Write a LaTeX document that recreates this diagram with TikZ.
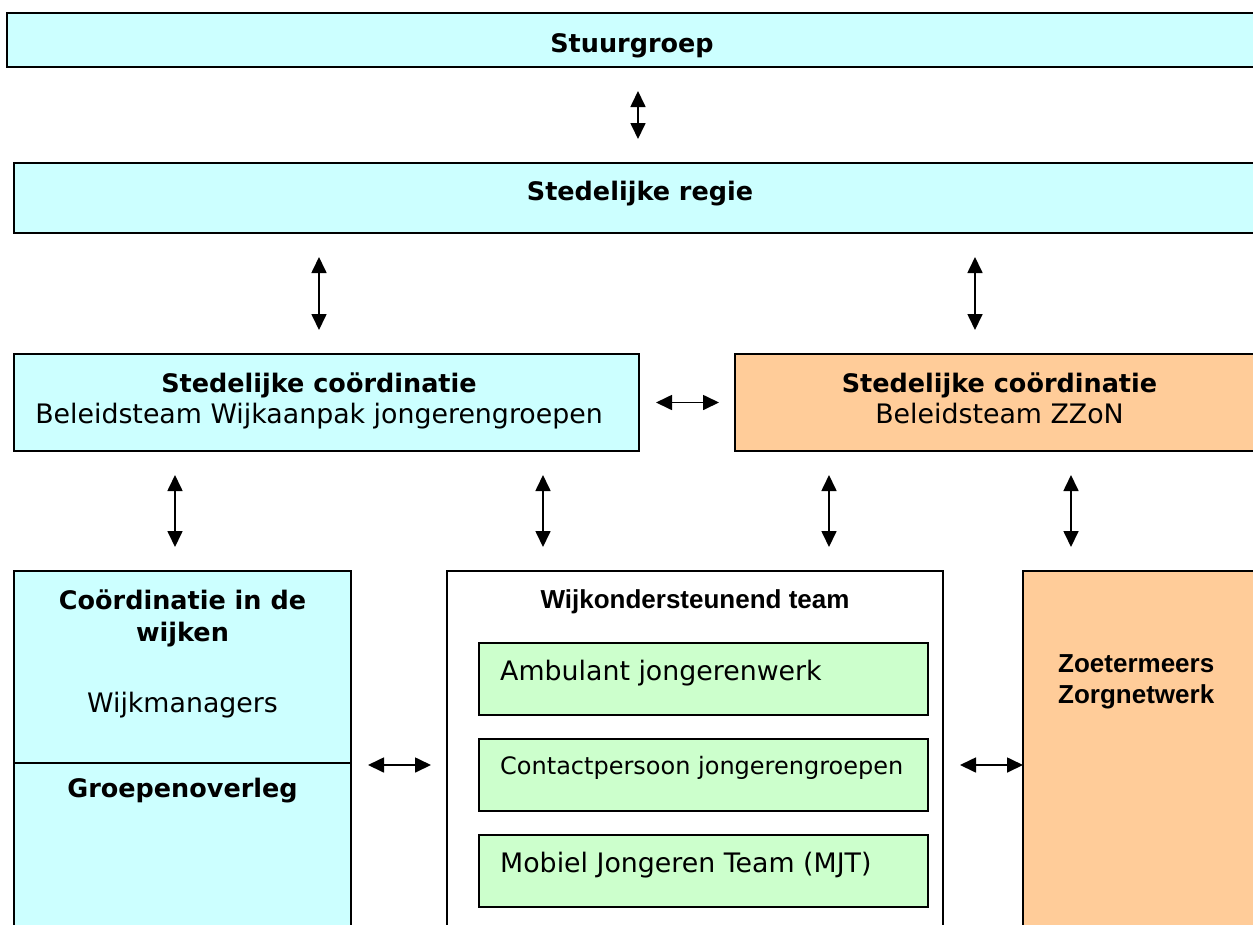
\documentclass[tikz,border=0pt]{standalone}
\usepackage{fontspec}
\setmainfont{DejaVu Sans}
\newfontfamily\arialfont{Liberation Sans}
\usepackage{xcolor}
\usepackage{tikz}
\usetikzlibrary{positioning,arrows.meta}
\definecolor{lichtblauw}{HTML}{CCFFFF}
\definecolor{oranje}{HTML}{FFCC99}
\definecolor{lichtgroen}{HTML}{CCFFCC}
\tikzset{blauw box/.style={rectangle,fill=lichtblauw,draw,line width=1.9pt,inner sep=0pt,outer sep=0pt,anchor=north west},}
\tikzset{oranje box/.style={rectangle,fill=oranje,draw,line width=1.9pt,inner sep=0pt,outer sep=0pt,anchor=north west},}
\tikzset{wit box/.style={rectangle,fill=white,draw,line width=1.5pt,inner sep=0pt,outer sep=0pt,anchor=north west},}
\tikzset{groen box/.style={rectangle,fill=lichtgroen,draw,line width=1.6pt,inner sep=0pt,outer sep=0pt,minimum width=449pt,minimum height=72pt},}
\tikzset{kop/.style={font=\bfseries\fontsize{25.5}{31}\selectfont,inner sep=0pt,anchor=base},}
\tikzset{tekst/.style={font=\fontsize{26.8}{31}\selectfont,inner sep=0pt,anchor=base},}
\tikzset{arial kop/.style={font=\arialfont\bfseries\fontsize{26}{31}\selectfont,inner sep=0pt,anchor=base},}
\tikzset{pijl/.style={{Triangle[length=16pt,width=15pt]}-{Triangle[length=16pt,width=15pt]},line width=1.7pt,shorten <=24pt,shorten >=24pt},}

\begin{document}
\begin{tikzpicture}[x=1pt,y=-1pt]
       \useasboundingbox (0,0) rectangle (1253,924);
       \clip (0,0) rectangle (1253,924);

       \node[blauw box, minimum width=1250pt, minimum height=54pt] (stuur) at (7,13) {};
       \node[blauw box, minimum width=1256pt, minimum height=70pt] (regie) at (14,163) {};

       \node[blauw box, minimum width=625pt, minimum height=97pt] (coordL) at (14,354) {};
       \node[oranje box, minimum width=535pt, minimum height=97pt] (coordR) [right = 96pt of coordL] {};

       \node[blauw box, minimum width=337pt, minimum height=388pt] (wijken) at (14,571) {};
       \node[wit box, minimum width=496pt, minimum height=388pt] (wijkteam) [right = 96pt of wijken] {};
       \node[oranje box, minimum width=250pt, minimum height=388pt] (zzn) [right = 80pt of wijkteam] {};

       \node[groen box, anchor=north west] (groen1) at (479,643) {};
       \node[groen box] (groen2) [below = 24pt of groen1] {};
       \node[groen box] (groen3) [below = 24pt of groen2] {};

       \draw[line width=1.9pt] ([yshift=-192pt]wijken.north west) -- ([yshift=-192pt]wijken.north east);

       % teksten
       \node[kop] (stuurT) at ([yshift=-39pt]stuur.north) {Stuurgroep};
       \node[kop] (regieT) at ([xshift=-2pt,yshift=-37.5pt]regie.north) {Stedelijke regie};
       \node[kop] (coordLT) at ([xshift=-7.5pt,yshift=-38pt]coordL.north) {Stedelijke coördinatie};
       \node[tekst] (coordLS) at ([yshift=-31pt]coordLT.base) {Beleidsteam Wijkaanpak jongerengroepen};
       \node[kop] (coordRT) at ([xshift=-3pt,yshift=-38pt]coordR.north) {Stedelijke coördinatie};
       \node[tekst] (coordRS) at ([yshift=-31pt]coordRT.base) {Beleidsteam ZZoN};
       \node[kop] (wijkenT) at ([yshift=-38pt]wijken.north) {Coördinatie in de};
       \node[kop] (wijkenT2) at ([yshift=-32pt]wijkenT.base) {wijken};
       \node[tekst] (wijkenS) at ([yshift=-103pt]wijkenT.base) {Wijkmanagers};
       \node[kop] (groepT) at ([yshift=-226pt]wijken.north) {Groepenoverleg};
       \node[arial kop] (wijkteamT) at ([xshift=0pt,yshift=-37pt]wijkteam.north) {Wijkondersteunend team};
       \node[tekst, anchor=base west] (groen1T) at ([xshift=21pt,yshift=-37pt]groen1.north west) {Ambulant jongerenwerk};
       \node[tekst, anchor=base west, font=\fontsize{24}{28}\selectfont] (groen2T) at ([xshift=21pt,yshift=-35pt]groen2.north west) {Contactpersoon jongerengroepen};
       \node[tekst, anchor=base west] (groen3T) at ([xshift=21pt,yshift=-37pt]groen3.north west) {Mobiel Jongeren Team (MJT)};
       \node[arial kop, anchor=base west] (zznT) at ([xshift=35pt,yshift=-101pt]zzn.north west) {Zoetermeers};
       \node[arial kop, anchor=base west] (zznT2) at ([yshift=-31pt]zznT.base west) {Zorgnetwerk};

       % pijlen
       \draw[pijl] ([xshift=6pt]stuur.south) -- ([xshift=6pt]stuur.south |- regie.north);
       \draw[pijl] (regie.south -| coordLT) -- (coordL.north -| coordLT);
       \draw[pijl] ([xshift=-27.5pt]coordR.north |- regie.south) -- ([xshift=-27.5pt]coordR.north);
       \draw[pijl] ([xshift=-7.5pt]wijken.north |- coordL.south) -- ([xshift=-7.5pt]wijken.north);
       \draw[pijl] ([xshift=-152pt]wijkteam.north |- coordL.south) -- ([xshift=-152pt]wijkteam.north);
       \draw[pijl] ([xshift=134pt]wijkteam.north |- coordR.south) -- ([xshift=134pt]wijkteam.north);
       \draw[pijl] ([xshift=-77pt]zzn.north |- coordR.south) -- ([xshift=-77pt]zzn.north);
       \draw[pijl, shorten <=17pt, shorten >=16pt] (coordL.east) -- (coordR.west);
       \draw[pijl, shorten <=17pt, shorten >=16pt] (wijken.east) -- (wijkteam.west);
       \draw[pijl, shorten <=17pt, shorten >=0pt] (wijkteam.east) -- (zzn.west);
\end{tikzpicture}
\end{document}
